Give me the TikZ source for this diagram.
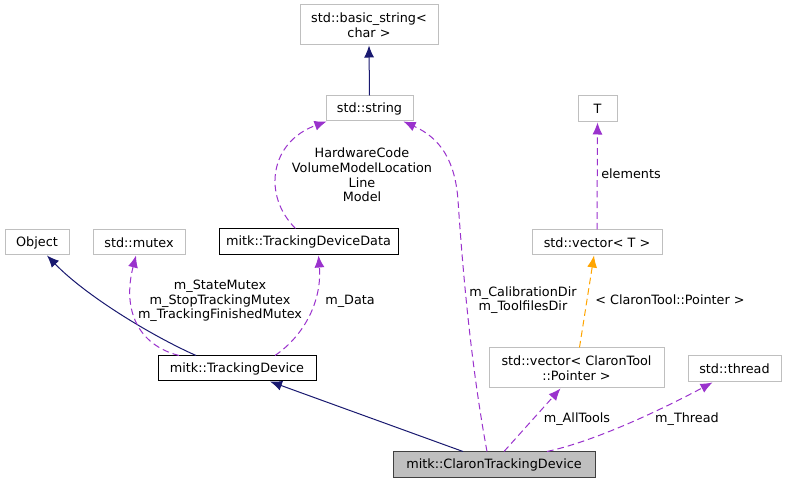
\documentclass[tikz,border=0pt]{standalone}
\usepackage{fontspec}
\setmainfont{DejaVu Sans}
\usetikzlibrary{arrows.meta,calc}
\definecolor{navy}{HTML}{191970}
\definecolor{purp}{HTML}{9A32CD}
\definecolor{orng}{HTML}{FFA500}
\definecolor{gbord}{HTML}{BFBFBF}
\definecolor{gfill}{HTML}{BFBFBF}
\definecolor{dbord}{HTML}{404040}
\begin{document}
\begin{tikzpicture}[x=0.75pt,y=-0.75pt,
  every node/.style={font=\fontsize{9.6}{10.9}\selectfont},
  box/.style={draw=gbord, line width=0.75pt, fill=white, inner sep=0pt, align=center},
  bbox/.style={box, draw=black},
  inh/.style={draw=navy, line width=0.75pt, -{Latex[length=9pt,width=7.5pt]}},
  use/.style={draw=purp, line width=0.75pt, dash pattern=on 5pt off 3pt, -{Latex[length=9pt,width=7.5pt]}},
  tmpl/.style={use, draw=orng},
  lbl/.style={align=center, inner sep=0pt}
]
\useasboundingbox (0,0) rectangle (786,484);
\fill[white] (0,0) rectangle (786,484);

% nodes
\node[box, minimum width=103.5pt, minimum height=30pt] (bs) at (369,25) {std::basic\_string<\\char >};
\node[box, minimum width=65.25pt, minimum height=18.75pt] (str) at (369.5,108.5) {std::string};
\node[box, minimum width=29.25pt, minimum height=19.5pt] (T) at (597.5,109) {T};
\node[box, minimum width=97.5pt, minimum height=18.75pt] (vecT) at (597,242.5) {std::vector< T >};
\node[box, minimum width=48pt, minimum height=18.75pt] (obj) at (37,242.5) {Object};
\node[box, minimum width=69pt, minimum height=18.75pt] (mutex) at (139,242.5) {std::mutex};
\node[bbox, minimum width=134.25pt, minimum height=19.5pt] (tdd) at (308.5,242) {mitk::TrackingDeviceData};
\node[bbox, minimum width=118.5pt, minimum height=18.75pt] (td) at (237,368.5) {mitk::TrackingDevice};
\node[box, minimum width=131.25pt, minimum height=30pt] (vecCT) at (576.5,368) {std::vector< ClaronTool\\::Pointer >};
\node[box, minimum width=69.75pt, minimum height=19.5pt] (thr) at (734.5,369) {std::thread};
\node[box, draw=dbord, fill=gfill, minimum width=151.5pt, minimum height=19.5pt] (ctd) at (494,465) {mitk::ClaronTrackingDevice};

% edges
\draw[inh] (str.north) -- (bs.south);
\draw[use] ($(tdd.north)+(-13,0)$) .. controls (262,195) and (270,142) .. ($(str.south west)+(1,0)$);
\draw[use] ($(ctd.north)+(-7,0)$) .. controls (470,360) and (462,260) .. (458,200) .. controls (455,160) and (440,138) .. ($(str.south east)+(-10,0)$);
\draw[use] (vecT.north) -- (T.south);
\draw[tmpl] ($(vecCT.north)+(3,0)$) -- ($(vecT.south)+(-3,0)$);
\draw[inh] ($(td.north)+(-41,0)$) .. controls (150,335) and (85,295) .. ($(obj.south)+(10,0)$);
\draw[use] ($(td.north)+(-58,0)$) .. controls (138,345) and (122,310) .. ($(mutex.south)+(-3,0)$);
\draw[use] ($(td.north)+(38,0)$) .. controls (305,335) and (322,300) .. ($(tdd.south)+(10,0)$);
\draw[inh] ($(ctd.north)+(-31,0)$) -- ($(td.south)+(33,0)$);
\draw[use] ($(ctd.north)+(10,0)$) -- ($(vecCT.south)+(-16,0)$);
\draw[use] ($(ctd.north)+(53,0)$) .. controls (600,440) and (670,405) .. ($(thr.south)+(-22,0)$);

% labels
\node[lbl] (l1) at (362,175) {HardwareCode\\VolumeModelLocation\\Line\\Model};
\node[lbl] (l2) at (220,301) {m\_StateMutex\\m\_StopTrackingMutex\\m\_TrackingFinishedMutex};
\node[lbl] (l3) at (350,301) {m\_Data};
\node[lbl] (l4) at (523,300) {m\_CalibrationDir\\m\_ToolfilesDir};
\node[lbl] (l5) at (670,300) {< ClaronTool::Pointer >};
\node[lbl, anchor=west] (l6) at (601,174) {elements};
\node[lbl] (l7) at (577,419) {m\_AllTools};
\node[lbl] (l8) at (687,419) {m\_Thread};
\end{tikzpicture}
\end{document}
